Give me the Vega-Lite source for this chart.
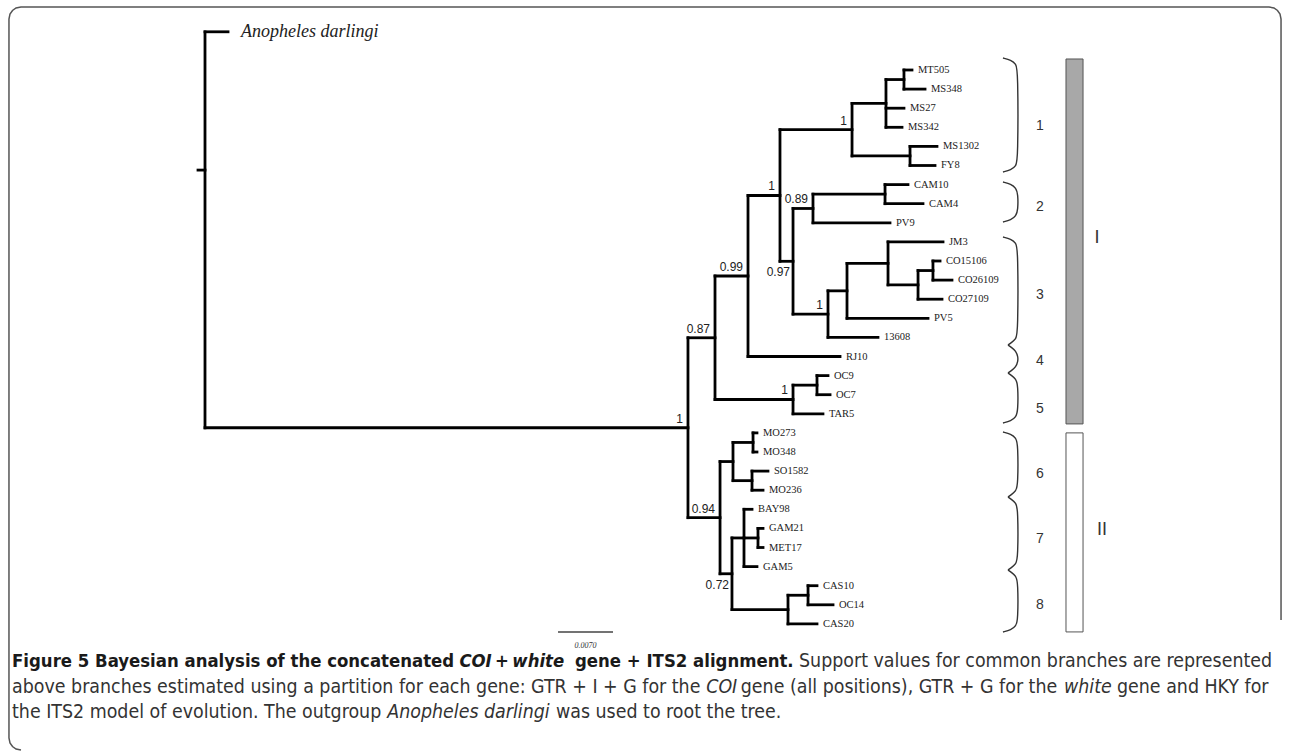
{
  "$schema": "https://vega.github.io/schema/vega-lite/v6.json",
  "width": 1290,
  "height": 756,
  "autosize": {"type": "fit", "contains": "padding"},
  "padding": 0,
  "background": "white",
  "config": {"view": {"stroke": null}},
  "datasets": {
    "nodes": [
      {"id":"root","d":0,"pd":-0.00089,"s":5.24,"lo":-2,"hi":18.73},
      {"id":"out","d":0.00293,"pd":0,"s":-2,"tip":"Anopheles darlingi"},
      {"id":"A","d":0.06147,"pd":0,"s":18.73,"lo":14.02,"hi":23.44},
      {"id":"B","d":0.06491,"pd":0.06147,"s":14.02,"lo":10.785,"hi":17.25},
      {"id":"C","d":0.06911,"pd":0.06491,"s":10.785,"lo":6.57,"hi":15},
      {"id":"D","d":0.07318,"pd":0.06911,"s":6.57,"lo":3.125,"hi":10.016},
      {"id":"F","d":0.08235,"pd":0.07318,"s":3.125,"lo":1.75,"hi":4.5},
      {"id":"G","d":0.08667,"pd":0.08235,"s":1.75,"lo":0.5,"hi":3},
      {"id":"G1","d":0.08896,"pd":0.08667,"s":0.5,"lo":0,"hi":1},
      {"id":"t0","d":0.08998,"pd":0.08896,"s":0,"tip":"MT505"},
      {"id":"t1","d":0.09164,"pd":0.08896,"s":1,"tip":"MS348"},
      {"id":"t2","d":0.08896,"pd":0.08667,"s":2,"tip":"MS27"},
      {"id":"t3","d":0.08871,"pd":0.08667,"s":3,"tip":"MS342"},
      {"id":"H","d":0.08973,"pd":0.08235,"s":4.5,"lo":4,"hi":5},
      {"id":"t4","d":0.09316,"pd":0.08973,"s":4,"tip":"MS1302"},
      {"id":"t5","d":0.09291,"pd":0.08973,"s":5,"tip":"FY8"},
      {"id":"E","d":0.07484,"pd":0.07318,"s":10.016,"lo":7.25,"hi":12.78},
      {"id":"E1","d":0.07738,"pd":0.07484,"s":7.25,"lo":6.5,"hi":8},
      {"id":"CAM","d":0.08655,"pd":0.07738,"s":6.5,"lo":6,"hi":7},
      {"id":"t6","d":0.08947,"pd":0.08655,"s":6,"tip":"CAM10"},
      {"id":"t7","d":0.09138,"pd":0.08655,"s":7,"tip":"CAM4"},
      {"id":"t8","d":0.08718,"pd":0.07738,"s":8,"tip":"PV9"},
      {"id":"I","d":0.07929,"pd":0.07484,"s":12.78,"lo":11.5625,"hi":14},
      {"id":"J","d":0.08171,"pd":0.07929,"s":11.5625,"lo":10.125,"hi":13},
      {"id":"K","d":0.08693,"pd":0.08171,"s":10.125,"lo":9,"hi":11.25},
      {"id":"t9","d":0.09393,"pd":0.08693,"s":9,"tip":"JM3"},
      {"id":"L","d":0.09075,"pd":0.08693,"s":11.25,"lo":10.5,"hi":12},
      {"id":"M","d":0.09265,"pd":0.09075,"s":10.5,"lo":10,"hi":11},
      {"id":"t10","d":0.09355,"pd":0.09265,"s":10,"tip":"CO15106"},
      {"id":"t11","d":0.09507,"pd":0.09265,"s":11,"tip":"CO26109"},
      {"id":"t12","d":0.0938,"pd":0.09075,"s":12,"tip":"CO27109"},
      {"id":"t13","d":0.09202,"pd":0.08171,"s":13,"tip":"PV5"},
      {"id":"t14","d":0.08565,"pd":0.07929,"s":14,"tip":"13608"},
      {"id":"t15","d":0.08082,"pd":0.06911,"s":15,"tip":"RJ10"},
      {"id":"N","d":0.07484,"pd":0.06491,"s":17.25,"lo":16.5,"hi":18},
      {"id":"OC","d":0.07789,"pd":0.07484,"s":16.5,"lo":16,"hi":17},
      {"id":"t16","d":0.07929,"pd":0.07789,"s":16,"tip":"OC9"},
      {"id":"t17","d":0.07955,"pd":0.07789,"s":17,"tip":"OC7"},
      {"id":"t18","d":0.07865,"pd":0.07484,"s":18,"tip":"TAR5"},
      {"id":"O","d":0.06555,"pd":0.06147,"s":23.44,"lo":20.5,"hi":26.375},
      {"id":"P","d":0.0672,"pd":0.06555,"s":20.5,"lo":19.5,"hi":21.5},
      {"id":"Pa","d":0.06975,"pd":0.0672,"s":19.5,"lo":19,"hi":20},
      {"id":"t19","d":0.07025,"pd":0.06975,"s":19,"tip":"MO273"},
      {"id":"t20","d":0.07025,"pd":0.06975,"s":20,"tip":"MO348"},
      {"id":"Pb","d":0.06962,"pd":0.0672,"s":21.5,"lo":21,"hi":22},
      {"id":"t21","d":0.07165,"pd":0.06962,"s":21,"tip":"SO1582"},
      {"id":"t22","d":0.07102,"pd":0.06962,"s":22,"tip":"MO236"},
      {"id":"Q","d":0.06707,"pd":0.06555,"s":26.375,"lo":24.5,"hi":28.25},
      {"id":"R","d":0.0686,"pd":0.06707,"s":24.5,"lo":23,"hi":26},
      {"id":"t23","d":0.06962,"pd":0.0686,"s":23,"tip":"BAY98"},
      {"id":"Ra","d":0.07038,"pd":0.0686,"s":24.5,"lo":24,"hi":25},
      {"id":"t24","d":0.07102,"pd":0.07038,"s":24,"tip":"GAM21"},
      {"id":"t25","d":0.07102,"pd":0.07038,"s":25,"tip":"MET17"},
      {"id":"t26","d":0.07025,"pd":0.0686,"s":26,"tip":"GAM5"},
      {"id":"S","d":0.0742,"pd":0.06707,"s":28.25,"lo":27.5,"hi":29},
      {"id":"Sa","d":0.07675,"pd":0.0742,"s":27.5,"lo":27,"hi":28},
      {"id":"t27","d":0.07789,"pd":0.07675,"s":27,"tip":"CAS10"},
      {"id":"t28","d":0.07993,"pd":0.07675,"s":28,"tip":"OC14"},
      {"id":"t29","d":0.07789,"pd":0.0742,"s":29,"tip":"CAS20"}
    ],
    "support_above": [
      {"d":0.06147,"s":18.73,"t":"1"},
      {"d":0.06491,"s":14.02,"t":"0.87"},
      {"d":0.06911,"s":10.785,"t":"0.99"},
      {"d":0.07318,"s":6.57,"t":"1"},
      {"d":0.08235,"s":3.125,"t":"1"},
      {"d":0.07738,"s":7.25,"t":"0.89"},
      {"d":0.07929,"s":12.78,"t":"1"},
      {"d":0.07484,"s":17.25,"t":"1"},
      {"d":0.06555,"s":23.44,"t":"0.94"}
    ],
    "support_below": [
      {"d":0.07484,"s":10.016,"t":"0.97"},
      {"d":0.06707,"s":26.375,"t":"0.72"}
    ],
    "clades": [
      {"d":0.10627,"s":2.93,"t":"1"},
      {"d":0.10627,"s":7.17,"t":"2"},
      {"d":0.10627,"s":11.78,"t":"3"},
      {"d":0.10627,"s":15.24,"t":"4"},
      {"d":0.10627,"s":17.75,"t":"5"},
      {"d":0.10627,"s":21.15,"t":"6"},
      {"d":0.10627,"s":24.55,"t":"7"},
      {"d":0.10627,"s":28.01,"t":"8"}
    ],
    "groups": [
      {"g":"I","d":0.10958,"d2":0.11175,"s":-0.576,"s2":18.53},
      {"g":"II","d":0.10958,"d2":0.11175,"s":19.0,"s2":29.42}
    ],
    "group_labels": [
      {"d":0.11353,"s":8.8,"t":"I"},
      {"d":0.11416,"s":24.08,"t":"II"}
    ],
    "braces": [
      {"b":1,"i":1,"d":0.10156,"s":-0.628},{"b":1,"i":2,"d":0.10258,"s":-0.524},{"b":1,"i":3,"d":0.10322,"s":-0.314},{"b":1,"i":4,"d":0.10347,"s":0},{"b":1,"i":5,"d":0.10347,"s":4.712},{"b":1,"i":6,"d":0.10322,"s":5.026},{"b":1,"i":7,"d":0.10258,"s":5.236},{"b":1,"i":8,"d":0.10156,"s":5.34},
      {"b":2,"i":1,"d":0.10156,"s":5.864},{"b":2,"i":2,"d":0.10258,"s":5.969},{"b":2,"i":3,"d":0.10322,"s":6.178},{"b":2,"i":4,"d":0.10347,"s":6.492},{"b":2,"i":5,"d":0.10347,"s":7.33},{"b":2,"i":6,"d":0.10322,"s":7.644},{"b":2,"i":7,"d":0.10258,"s":7.853},{"b":2,"i":8,"d":0.10156,"s":7.958},
      {"b":3,"i":1,"d":0.10156,"s":8.743},{"b":3,"i":2,"d":0.10258,"s":8.848},{"b":3,"i":3,"d":0.10322,"s":9.058},{"b":3,"i":4,"d":0.10347,"s":9.372},{"b":3,"i":5,"d":0.10347,"s":13.77},{"b":3,"i":6,"d":0.10322,"s":14.084},{"b":3,"i":7,"d":0.10258,"s":14.293},{"b":3,"i":8,"d":0.1022,"s":14.398},
      {"b":4,"i":1,"d":0.1022,"s":14.398},{"b":4,"i":2,"d":0.10258,"s":14.503},{"b":4,"i":3,"d":0.10322,"s":14.712},{"b":4,"i":4,"d":0.10347,"s":15.026},{"b":4,"i":5,"d":0.10347,"s":15.236},{"b":4,"i":6,"d":0.10322,"s":15.55},{"b":4,"i":7,"d":0.10258,"s":15.759},{"b":4,"i":8,"d":0.1022,"s":15.864},
      {"b":5,"i":1,"d":0.1022,"s":15.864},{"b":5,"i":2,"d":0.10258,"s":15.969},{"b":5,"i":3,"d":0.10322,"s":16.178},{"b":5,"i":4,"d":0.10347,"s":16.492},{"b":5,"i":5,"d":0.10347,"s":17.853},{"b":5,"i":6,"d":0.10322,"s":18.168},{"b":5,"i":7,"d":0.10258,"s":18.377},{"b":5,"i":8,"d":0.10156,"s":18.482},
      {"b":6,"i":1,"d":0.10156,"s":18.953},{"b":6,"i":2,"d":0.10258,"s":19.058},{"b":6,"i":3,"d":0.10322,"s":19.267},{"b":6,"i":4,"d":0.10347,"s":19.581},{"b":6,"i":5,"d":0.10347,"s":21.728},{"b":6,"i":6,"d":0.10322,"s":22.042},{"b":6,"i":7,"d":0.10258,"s":22.251},{"b":6,"i":8,"d":0.1022,"s":22.356},
      {"b":7,"i":1,"d":0.1022,"s":22.356},{"b":7,"i":2,"d":0.10258,"s":22.461},{"b":7,"i":3,"d":0.10322,"s":22.67},{"b":7,"i":4,"d":0.10347,"s":22.984},{"b":7,"i":5,"d":0.10347,"s":25.55},{"b":7,"i":6,"d":0.10322,"s":25.864},{"b":7,"i":7,"d":0.10258,"s":26.073},{"b":7,"i":8,"d":0.1022,"s":26.178},
      {"b":8,"i":1,"d":0.1022,"s":26.178},{"b":8,"i":2,"d":0.10258,"s":26.283},{"b":8,"i":3,"d":0.10322,"s":26.492},{"b":8,"i":4,"d":0.10347,"s":26.806},{"b":8,"i":5,"d":0.10347,"s":28.796},{"b":8,"i":6,"d":0.10322,"s":29.11},{"b":8,"i":7,"d":0.10258,"s":29.319},{"b":8,"i":8,"d":0.10156,"s":29.424}
    ],
    "scalebar": [{"d":0.04493,"d2":0.05193,"s":29.42}],
    "scalelabel": [{"d":0.04843,"s":30.16,"t":"0.0070"}],
    "frame": [
      {"i":1,"d":-0.02342,"s":35.602},{"i":2,"d":-0.02405,"s":35.55},{"i":3,"d":-0.0245,"s":35.419},{"i":4,"d":-0.02482,"s":35.236},{"i":5,"d":-0.02495,"s":34.974},
      {"i":6,"d":-0.02495,"s":-2.67},{"i":7,"d":-0.02482,"s":-2.932},{"i":8,"d":-0.0245,"s":-3.115},{"i":9,"d":-0.02405,"s":-3.246},{"i":10,"d":-0.02342,"s":-3.298},
      {"i":11,"d":0.13542,"s":-3.298},{"i":12,"d":0.13605,"s":-3.246},{"i":13,"d":0.1365,"s":-3.115},{"i":14,"d":0.13682,"s":-2.932},{"i":15,"d":0.13695,"s":-2.67},{"i":16,"d":0.13695,"s":28.796}
    ],
    "cap_bold": [
      {"d":-0.02456,"s":30.94,"t":"Figure 5 Bayesian analysis of the concatenated"},
      {"d":0.03692,"s":30.94,"t":"+"},
      {"d":0.04709,"s":30.94,"t":"gene + ITS2 alignment."}
    ],
    "cap_bolditalic": [
      {"d":0.03238,"s":30.94,"t":"COI"},
      {"d":0.03912,"s":30.94,"t":"white"}
    ],
    "cap_regular": [
      {"d":0.0756,"s":30.94,"t":"Support values for common branches are represented"},
      {"d":-0.02456,"s":32.3,"t":"above branches estimated using a partition for each gene: GTR + I + G for the"},
      {"d":0.06819,"s":32.3,"t":"gene (all positions), GTR + G for the"},
      {"d":0.11607,"s":32.3,"t":"gene and HKY for"},
      {"d":-0.02456,"s":33.61,"t":"the ITS2 model of evolution. The outgroup"},
      {"d":0.04467,"s":33.61,"t":"was used to root the tree."}
    ],
    "cap_italic": [
      {"d":0.06379,"s":32.3,"t":"COI"},
      {"d":0.10933,"s":32.3,"t":"white"},
      {"d":0.0232,"s":33.61,"t":"Anopheles darlingi"}
    ]
  },
  "layer": [
    {
      "data": {"name": "frame"},
      "mark": {"type": "line", "stroke": "#555555", "strokeWidth": 1.5},
      "encoding": {
        "x": {"field": "d", "type": "quantitative", "axis": null, "scale": {"domain": [-0.026091, 0.138091], "nice": false, "zero": false}},
        "y": {"field": "s", "type": "quantitative", "axis": null, "scale": {"domain": [-3.6649, 35.9162], "nice": false, "zero": false, "reverse": true}},
        "order": {"field": "i"}
      }
    },
    {
      "data": {"name": "nodes"},
      "mark": {"type": "rule", "stroke": "#000000", "strokeWidth": 2.8, "strokeCap": "square"},
      "encoding": {
        "x": {"field": "pd", "type": "quantitative", "axis": null},
        "x2": {"field": "d"},
        "y": {"field": "s", "type": "quantitative", "axis": null}
      }
    },
    {
      "data": {"name": "nodes"},
      "transform": [{"filter": "isValid(datum.lo)"}],
      "mark": {"type": "rule", "stroke": "#000000", "strokeWidth": 2.8, "strokeCap": "square"},
      "encoding": {
        "x": {"field": "d", "type": "quantitative", "axis": null},
        "y": {"field": "lo", "type": "quantitative", "axis": null},
        "y2": {"field": "hi"}
      }
    },
    {
      "data": {"name": "nodes"},
      "transform": [{"filter": "datum.tip && datum.id != 'out'"}],
      "mark": {"type": "text", "align": "left", "baseline": "middle", "dx": 6, "font": "Liberation Serif", "fontSize": 10.5, "fill": "#222222"},
      "encoding": {
        "x": {"field": "d", "type": "quantitative", "axis": null},
        "y": {"field": "s", "type": "quantitative", "axis": null},
        "text": {"field": "tip"}
      }
    },
    {
      "data": {"name": "nodes"},
      "transform": [{"filter": "datum.id == 'out'"}],
      "mark": {"type": "text", "align": "left", "baseline": "middle", "dx": 13, "font": "Liberation Serif", "fontStyle": "italic", "fontSize": 18, "fill": "#222222"},
      "encoding": {
        "x": {"field": "d", "type": "quantitative", "axis": null},
        "y": {"field": "s", "type": "quantitative", "axis": null},
        "text": {"field": "tip"}
      }
    },
    {
      "data": {"name": "support_above"},
      "mark": {"type": "text", "align": "right", "baseline": "bottom", "dx": -5, "dy": -2, "font": "Liberation Sans", "fontSize": 12, "fill": "#222222"},
      "encoding": {
        "x": {"field": "d", "type": "quantitative", "axis": null},
        "y": {"field": "s", "type": "quantitative", "axis": null},
        "text": {"field": "t"}
      }
    },
    {
      "data": {"name": "support_below"},
      "mark": {"type": "text", "align": "right", "baseline": "top", "dx": -3, "dy": 6, "font": "Liberation Sans", "fontSize": 12, "fill": "#222222"},
      "encoding": {
        "x": {"field": "d", "type": "quantitative", "axis": null},
        "y": {"field": "s", "type": "quantitative", "axis": null},
        "text": {"field": "t"}
      }
    },
    {
      "data": {"name": "braces"},
      "mark": {"type": "line", "stroke": "#333333", "strokeWidth": 1.4, "interpolate": "basis"},
      "encoding": {
        "x": {"field": "d", "type": "quantitative", "axis": null},
        "y": {"field": "s", "type": "quantitative", "axis": null},
        "detail": {"field": "b"},
        "order": {"field": "i"}
      }
    },
    {
      "data": {"name": "clades"},
      "mark": {"type": "text", "align": "center", "baseline": "middle", "font": "Liberation Sans", "fontSize": 14, "fill": "#333333"},
      "encoding": {
        "x": {"field": "d", "type": "quantitative", "axis": null},
        "y": {"field": "s", "type": "quantitative", "axis": null},
        "text": {"field": "t"}
      }
    },
    {
      "data": {"name": "groups"},
      "mark": {"type": "rect", "stroke": "#555555", "strokeWidth": 1},
      "encoding": {
        "x": {"field": "d", "type": "quantitative", "axis": null},
        "x2": {"field": "d2"},
        "y": {"field": "s", "type": "quantitative", "axis": null},
        "y2": {"field": "s2"},
        "color": {"field": "g", "type": "nominal", "legend": null, "scale": {"domain": ["I", "II"], "range": ["#a8a8a8", "#ffffff"]}}
      }
    },
    {
      "data": {"name": "group_labels"},
      "mark": {"type": "text", "align": "center", "baseline": "middle", "font": "Liberation Sans", "fontSize": 18, "fill": "#333333"},
      "encoding": {
        "x": {"field": "d", "type": "quantitative", "axis": null},
        "y": {"field": "s", "type": "quantitative", "axis": null},
        "text": {"field": "t"}
      }
    },
    {
      "data": {"name": "scalebar"},
      "mark": {"type": "rule", "stroke": "#444444", "strokeWidth": 1.5},
      "encoding": {
        "x": {"field": "d", "type": "quantitative", "axis": null},
        "x2": {"field": "d2"},
        "y": {"field": "s", "type": "quantitative", "axis": null}
      }
    },
    {
      "data": {"name": "scalelabel"},
      "mark": {"type": "text", "align": "center", "baseline": "middle", "font": "Liberation Serif", "fontStyle": "italic", "fontSize": 8, "fill": "#333333"},
      "encoding": {
        "x": {"field": "d", "type": "quantitative", "axis": null},
        "y": {"field": "s", "type": "quantitative", "axis": null},
        "text": {"field": "t"}
      }
    },
    {
      "data": {"name": "cap_bold"},
      "mark": {"type": "text", "align": "left", "baseline": "middle", "font": "DejaVu Sans Condensed", "fontWeight": "bold", "fontSize": 18.4, "fill": "#1a1a1a"},
      "encoding": {
        "x": {"field": "d", "type": "quantitative", "axis": null},
        "y": {"field": "s", "type": "quantitative", "axis": null},
        "text": {"field": "t"}
      }
    },
    {
      "data": {"name": "cap_bolditalic"},
      "mark": {"type": "text", "align": "left", "baseline": "middle", "font": "DejaVu Sans Condensed", "fontWeight": "bold", "fontStyle": "italic", "fontSize": 18.4, "fill": "#1a1a1a"},
      "encoding": {
        "x": {"field": "d", "type": "quantitative", "axis": null},
        "y": {"field": "s", "type": "quantitative", "axis": null},
        "text": {"field": "t"}
      }
    },
    {
      "data": {"name": "cap_regular"},
      "mark": {"type": "text", "align": "left", "baseline": "middle", "font": "DejaVu Sans Condensed", "fontSize": 19.4, "fill": "#333333"},
      "encoding": {
        "x": {"field": "d", "type": "quantitative", "axis": null},
        "y": {"field": "s", "type": "quantitative", "axis": null},
        "text": {"field": "t"}
      }
    },
    {
      "data": {"name": "cap_italic"},
      "mark": {"type": "text", "align": "left", "baseline": "middle", "font": "DejaVu Sans Condensed", "fontStyle": "italic", "fontSize": 19.4, "fill": "#333333"},
      "encoding": {
        "x": {"field": "d", "type": "quantitative", "axis": null},
        "y": {"field": "s", "type": "quantitative", "axis": null},
        "text": {"field": "t"}
      }
    }
  ]
}
